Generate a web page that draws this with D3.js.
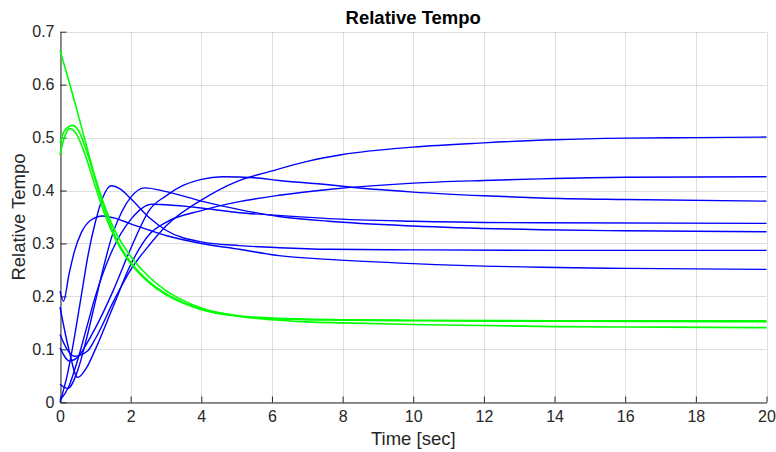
<!DOCTYPE html>
<html>
<head>
<meta charset="utf-8">
<script src="https://cdn.jsdelivr.net/npm/d3@7/dist/d3.min.js"></script>
<style>
body { margin: 0; background: #fff; }
text { font-family: "Liberation Sans", Arial, Helvetica, sans-serif; fill: #262626; }
</style>
</head>
<body>
<script>
// values: [time (sec), relative tempo]
const greenA = [[0,0.665],[0.25,0.607],[0.5,0.547],[0.75,0.484],[1.0,0.424],[1.3,0.364],[1.6,0.318],[2.0,0.276],[2.5,0.238],[3.0,0.211],[3.5,0.192],[4,0.178],[5,0.163],[6,0.156],[7,0.152],[8,0.15],[10,0.147],[12,0.145],[14,0.143],[17,0.142],[20,0.141]];
const greenB = [[0,0.49],[0.12,0.512],[0.36,0.523],[0.55,0.51],[0.75,0.475],[1.0,0.42],[1.3,0.358],[1.6,0.308],[2.0,0.265],[2.5,0.229],[3,0.205],[3.5,0.188],[4,0.176],[5,0.164],[6,0.159],[8,0.156],[10,0.155],[14,0.154],[20,0.154]];
const greenC = [[0,0.467],[0.1,0.495],[0.27,0.517],[0.45,0.508],[0.7,0.47],[0.95,0.418],[1.25,0.358],[1.6,0.304],[2,0.262],[2.5,0.227],[3,0.203],[3.5,0.187],[4,0.175],[5,0.163],[6,0.158],[8,0.155],[10,0.154],[14,0.153],[20,0.152]];

const blueA = [[0,0.128],[0.2,0.1],[0.41,0.087],[0.78,0.097],[1.0,0.12],[1.54,0.194],[2.0,0.25],[2.54,0.298],[3,0.333],[4,0.382],[5,0.417],[6,0.437],[7,0.455],[8,0.468],[10,0.482],[12,0.49],[14,0.496],[16,0.499],[18,0.5],[20,0.501]];
const blueB = [[0,0.18],[0.25,0.1],[0.5,0.047],[0.75,0.065],[1.0,0.1],[1.5,0.18],[2.0,0.26],[2.54,0.318],[3,0.34],[4,0.362],[5,0.378],[6.2,0.391],[7.6,0.402],[10,0.414],[12,0.419],[13.6,0.422],[16,0.425],[20,0.426]];
const blueC = [[0,0.103],[0.27,0.078],[0.5,0.085],[0.75,0.11],[1.0,0.14],[1.5,0.21],[2.0,0.29],[2.54,0.364],[3,0.39],[3.5,0.41],[4,0.421],[4.6,0.426],[5.5,0.424],[6.2,0.419],[7.6,0.411],[8,0.408],[10,0.397],[12,0.39],[13.6,0.386],[16,0.383],[20,0.38]];
const blueD = [[0,0.034],[0.22,0.026],[0.5,0.06],[0.75,0.12],[1.0,0.19],[1.25,0.26],[1.5,0.32],[1.75,0.36],[2.0,0.387],[2.4,0.405],[3,0.398],[4,0.38],[5.08,0.364],[6.2,0.351],[7.6,0.342],[10,0.333],[13.6,0.326],[16,0.324],[20,0.322]];
const blueE = [[0,0.004],[0.25,0.03],[0.5,0.08],[0.75,0.14],[1.0,0.2],[1.5,0.29],[2.0,0.345],[2.6,0.374],[3,0.373],[4,0.367],[5.08,0.358],[6.2,0.353],[7.6,0.347],[10,0.342],[13.6,0.339],[20,0.338]];
const blueF = [[0,0],[0.2,0.05],[0.4,0.12],[0.6,0.2],[0.8,0.28],[1.0,0.34],[1.2,0.385],[1.45,0.409],[1.7,0.403],[2.0,0.385],[2.54,0.348],[3,0.325],[4,0.303],[5.08,0.296],[6.2,0.292],[7.6,0.289],[10,0.288],[14,0.287],[20,0.287]];
const blueG = [[0,0.21],[0.1,0.191],[0.25,0.24],[0.4,0.283],[0.6,0.32],[0.85,0.343],[1.21,0.352],[1.6,0.347],[2.0,0.337],[2.54,0.325],[3,0.315],[4,0.3],[5.08,0.289],[6.2,0.277],[7.6,0.27],[10,0.262],[13.6,0.255],[16,0.253],[20,0.251]];

const blueSeries = [blueA, blueB, blueC, blueD, blueE, blueF, blueG];
const greenSeries = [greenA, greenB, greenC];

const xTicks = [0, 2, 4, 6, 8, 10, 12, 14, 16, 18, 20];
const yTicks = [0, 0.1, 0.2, 0.3, 0.4, 0.5, 0.6, 0.7];
const yTickLabels = ["0", "0.1", "0.2", "0.3", "0.4", "0.5", "0.6", "0.7"];

const W = 776, H = 452;
const plotLeft = 60, plotRight = 766.5, plotTop = 31.7, plotBottom = 402.3;

const svg = d3.select("body").append("svg")
    .attr("width", W)
    .attr("height", H);

const x = d3.scaleLinear().domain([0, 20]).range([plotLeft, plotRight]);
const y = d3.scaleLinear().domain([0, 0.7]).range([plotBottom, plotTop]);

// grid
const grid = svg.append("g").attr("stroke", "#262626").attr("stroke-opacity", 0.15).attr("stroke-width", 1);
grid.selectAll(".gx").data(xTicks).enter().append("line")
    .attr("x1", d => Math.round(x(d)) + 0.5).attr("x2", d => Math.round(x(d)) + 0.5)
    .attr("y1", plotTop).attr("y2", plotBottom);
grid.selectAll(".gy").data(yTicks).enter().append("line")
    .attr("y1", d => Math.round(y(d)) + 0.5).attr("y2", d => Math.round(y(d)) + 0.5)
    .attr("x1", plotLeft).attr("x2", plotRight);

// axes, ticks pointing inward
const xAxis = svg.append("g")
    .attr("transform", "translate(0," + (Math.round(plotBottom) + 0.5) + ")")
    .call(d3.axisBottom(x).tickValues(xTicks).tickSizeInner(-6).tickSizeOuter(0).tickPadding(8)
        .tickFormat(d3.format("d")));
const yAxis = svg.append("g")
    .attr("transform", "translate(" + (Math.round(plotLeft) + 0.5) + ",0)")
    .call(d3.axisLeft(y).tickValues(yTicks).tickSizeInner(-6).tickSizeOuter(0).tickPadding(6)
        .tickFormat((d, i) => yTickLabels[i]));

[xAxis, yAxis].forEach(a => {
    a.select(".domain").attr("stroke", "#262626").attr("stroke-width", 1);
    a.selectAll(".tick line").attr("stroke", "#262626");
    a.selectAll(".tick text")
        .attr("font-family", "'Liberation Sans', Arial, sans-serif")
        .attr("font-size", "16px")
        .attr("fill", "#262626");
});

const line = d3.line()
    .x(d => x(d[0]))
    .y(d => y(d[1]))
    .curve(d3.curveMonotoneX);

svg.append("g").selectAll("path")
    .data(blueSeries)
    .enter()
    .append("path")
    .attr("d", line)
    .attr("fill", "none")
    .attr("stroke", "#0000ff")
    .attr("stroke-width", 1.4);

svg.append("g").selectAll("path")
    .data(greenSeries)
    .enter()
    .append("path")
    .attr("d", line)
    .attr("fill", "none")
    .attr("stroke", "#00ff00")
    .attr("stroke-width", 1.6);

svg.append("text")
    .attr("x", (plotLeft + plotRight) / 2)
    .attr("y", 24)
    .attr("text-anchor", "middle")
    .attr("font-size", "18.5px")
    .attr("font-weight", "bold")
    .style("fill", "#000")
    .text("Relative Tempo");

svg.append("text")
    .attr("x", (plotLeft + plotRight) / 2)
    .attr("y", 445)
    .attr("text-anchor", "middle")
    .attr("font-size", "18.5px")
    .text("Time [sec]");

svg.append("text")
    .attr("transform", "translate(25," + ((plotTop + plotBottom) / 2) + ") rotate(-90)")
    .attr("text-anchor", "middle")
    .attr("font-size", "18.5px")
    .text("Relative Tempo");
</script>
</body>
</html>
